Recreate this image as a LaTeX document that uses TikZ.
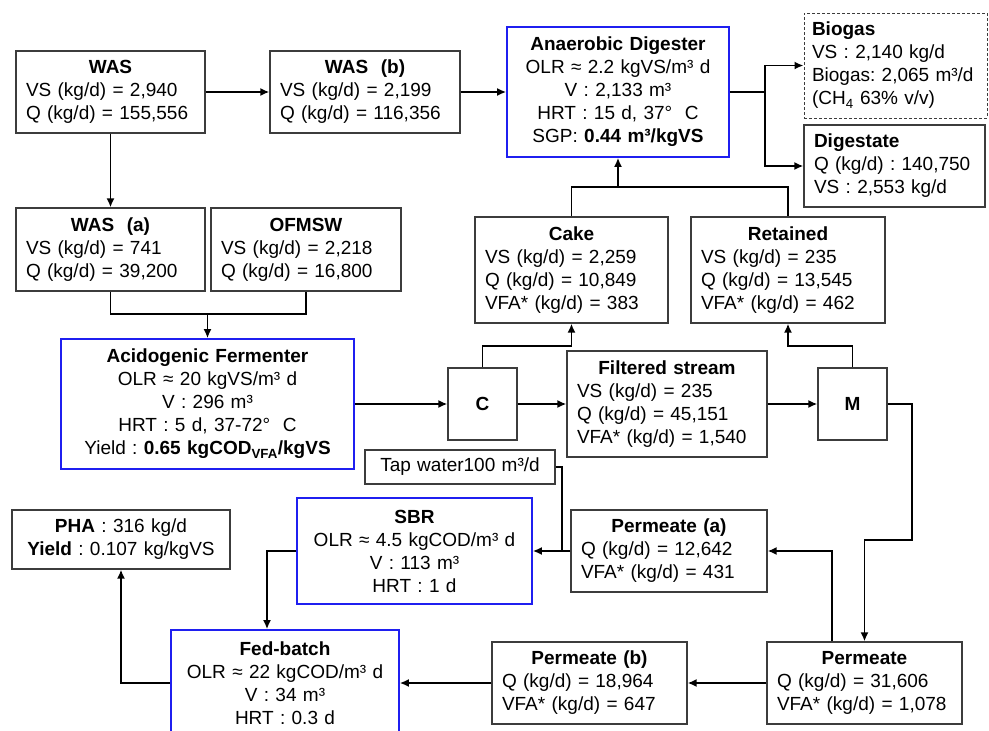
\documentclass[tikz,border=0pt]{standalone}
\usepackage{fontspec}
\setmainfont{Liberation Sans}
\usepackage{tikz}
\usetikzlibrary{arrows.meta}
\usetikzlibrary{calc}

\definecolor{boxline}{HTML}{3C3C3C}
\definecolor{unitblue}{HTML}{1F1FF0}

\newcommand{\hdr}[1]{\makebox[\hsize][c]{\bfseries #1}}
\frenchspacing

\begin{document}
\begin{tikzpicture}[x=1pt,y=-1pt,->,>={Latex[length=9pt,width=8pt]},line width=1.8pt,
  box/.style={draw=boxline,line width=1.2pt,inner xsep=10pt,inner ysep=0pt,
    font=\fontsize{19}{23}\selectfont,align=left},
  unit/.style={box,draw=unitblue,line width=1.6pt,align=center},
  wh/.style 2 args={minimum width=#1pt,text width=#1pt-20pt,minimum height=#2pt}]
\useasboundingbox (0,0) rectangle (989,731);

% feed side
\node[box,wh={189}{82}] (was)   at (110.5,92)  {\hdr{WAS}\\VS (kg/d) = 2,940\\Q (kg/d) = 155,556};
\node[box,wh={190}{82}] (wasb)  at (365,92)    {\hdr{WAS~ (b)}\\VS (kg/d) = 2,199\\Q (kg/d) = 116,356};
\node[box,wh={189}{83}] (wasa)  at (110.5,249.5) {\hdr{WAS~ (a)}\\VS (kg/d) = 741\\Q (kg/d) = 39,200};
\node[box,wh={190}{83}] (ofmsw) at (306,249.5) {\hdr{OFMSW}\\VS (kg/d) = 2,218\\Q (kg/d) = 16,800};

% units
\node[unit,wh={222}{130}] (ad) at (618,92) {\textbf{Anaerobic Digester}\\OLR ≈ 2.2 kgVS/m³ d\\V : 2,133 m³\\HRT : 15 d, 37°~ C\\SGP: \textbf{0.44 m³/kgVS}};
\node[unit,wh={293}{130}] (af) at (207.5,404) {\textbf{Acidogenic Fermenter}\\OLR ≈ 20 kgVS/m³ d\\V : 296 m³\\HRT : 5 d, 37-72°~ C\\Yield : \textbf{0.65 kgCOD\textsubscript{VFA}/kgVS}};
\node[unit,wh={235}{106}] (sbr) at (414.5,551) {\textbf{SBR}\\OLR ≈ 4.5 kgCOD/m³ d\\V : 113 m³\\HRT : 1 d};
\node[unit,wh={228}{106}] (fed) at (285,683) {\textbf{Fed-batch}\\OLR ≈ 22 kgCOD/m³ d\\V : 34 m³\\HRT : 0.3 d};

% products
\node[box,wh={183}{105},dashed,dash pattern=on 3pt off 2pt,line width=1pt,inner xsep=8pt,text width=167pt] (biogas) at (895.5,65.5) {\textbf{Biogas}\\VS : 2,140 kg/d\\Biogas: 2,065 m³/d\\(CH\textsubscript{4} 63\% v/v)};
\node[box,wh={181}{82}] (digestate) at (894.5,166) {\textbf{Digestate}\\Q (kg/d) : 140,750\\VS : 2,553 kg/d};
\node[box,wh={218}{59},align=center] (pha) at (121,539.5) {\textbf{PHA} : 316 kg/d\\\textbf{Yield} : 0.107 kg/kgVS};

% separation
\node[box,wh={69}{72},align=center] (c) at (482.5,404) {\textbf{C}};
\node[box,wh={69}{72},align=center] (m) at (852.5,404) {\textbf{M}};
\node[box,wh={193}{106}] (cake)     at (571.5,270) {\hdr{Cake}\\VS (kg/d) = 2,259\\Q (kg/d) = 10,849\\VFA* (kg/d) = 383};
\node[box,wh={194}{106}] (retained) at (788,270)   {\hdr{Retained}\\VS (kg/d) = 235\\Q (kg/d) = 13,545\\VFA* (kg/d) = 462};
\node[box,wh={200}{106}] (filt)     at (667,404)   {\hdr{Filtered stream}\\VS (kg/d) = 235\\Q (kg/d) = 45,151\\VFA* (kg/d) = 1,540};
\node[box,wh={190}{34},align=center] (tap) at (460,467) {Tap water100 m³/d};
\node[box,wh={196}{82}] (perma) at (669,551)   {\hdr{Permeate (a)}\\Q (kg/d) = 12,642\\VFA* (kg/d) = 431};
\node[box,wh={195}{82}] (perm)  at (864.5,683) {\hdr{Permeate}\\Q (kg/d) = 31,606\\VFA* (kg/d) = 1,078};
\node[box,wh={195}{82}] (permb) at (589.5,683) {\hdr{Permeate (b)}\\Q (kg/d) = 18,964\\VFA* (kg/d) = 647};

% junctions
\coordinate (split)  at (765,92);
\coordinate (feed)   at (207.5,314);
\coordinate (cakein) at (571.5,346);
\coordinate (retin)  at (788,346);
\coordinate (solids) at (618,187);
\coordinate (mdrop)  at (912,540);
\coordinate (tapin)  at (562,551);
\coordinate (sbrout) at (267,551);

% streams
\draw (was.east) -- (wasb.west);
\draw (wasb.east) -- (ad.west);
\draw[-] (ad.east) -- (split);
\draw (split) |- (biogas.west);
\draw (split) |- (digestate.west);
\draw (was.south) -- (wasa.north);
\draw[-] (wasa.south) |- (feed) -| (ofmsw.south);
\draw (feed) -- (af.north);
\draw (af.east) -- (c.west);
\draw (c.north) |- (cakein) -- (cake.south);
\draw (c.east) -- (filt.west);
\draw (filt.east) -- (m.west);
\draw (m.north) |- (retin) -- (retained.south);
\draw[-] (cake.north) |- (solids) -| (retained.north);
\draw (solids) -- (ad.south);
\draw (m.east) -| (mdrop) -| (perm.north);
\draw ($(perm.north west)!1/3!(perm.north east)$) |- (perma.east);
\draw (perm.west) -- (permb.east);
\draw (permb.west) -- (fed.east);
\draw[-] (tap.east) -| (tapin);
\draw (perma.west) -- (sbr.east);
\draw (sbr.west) -- (sbrout) -- (sbrout |- fed.north);
\draw (fed.west) -| (pha.south);
\end{tikzpicture}
\end{document}
